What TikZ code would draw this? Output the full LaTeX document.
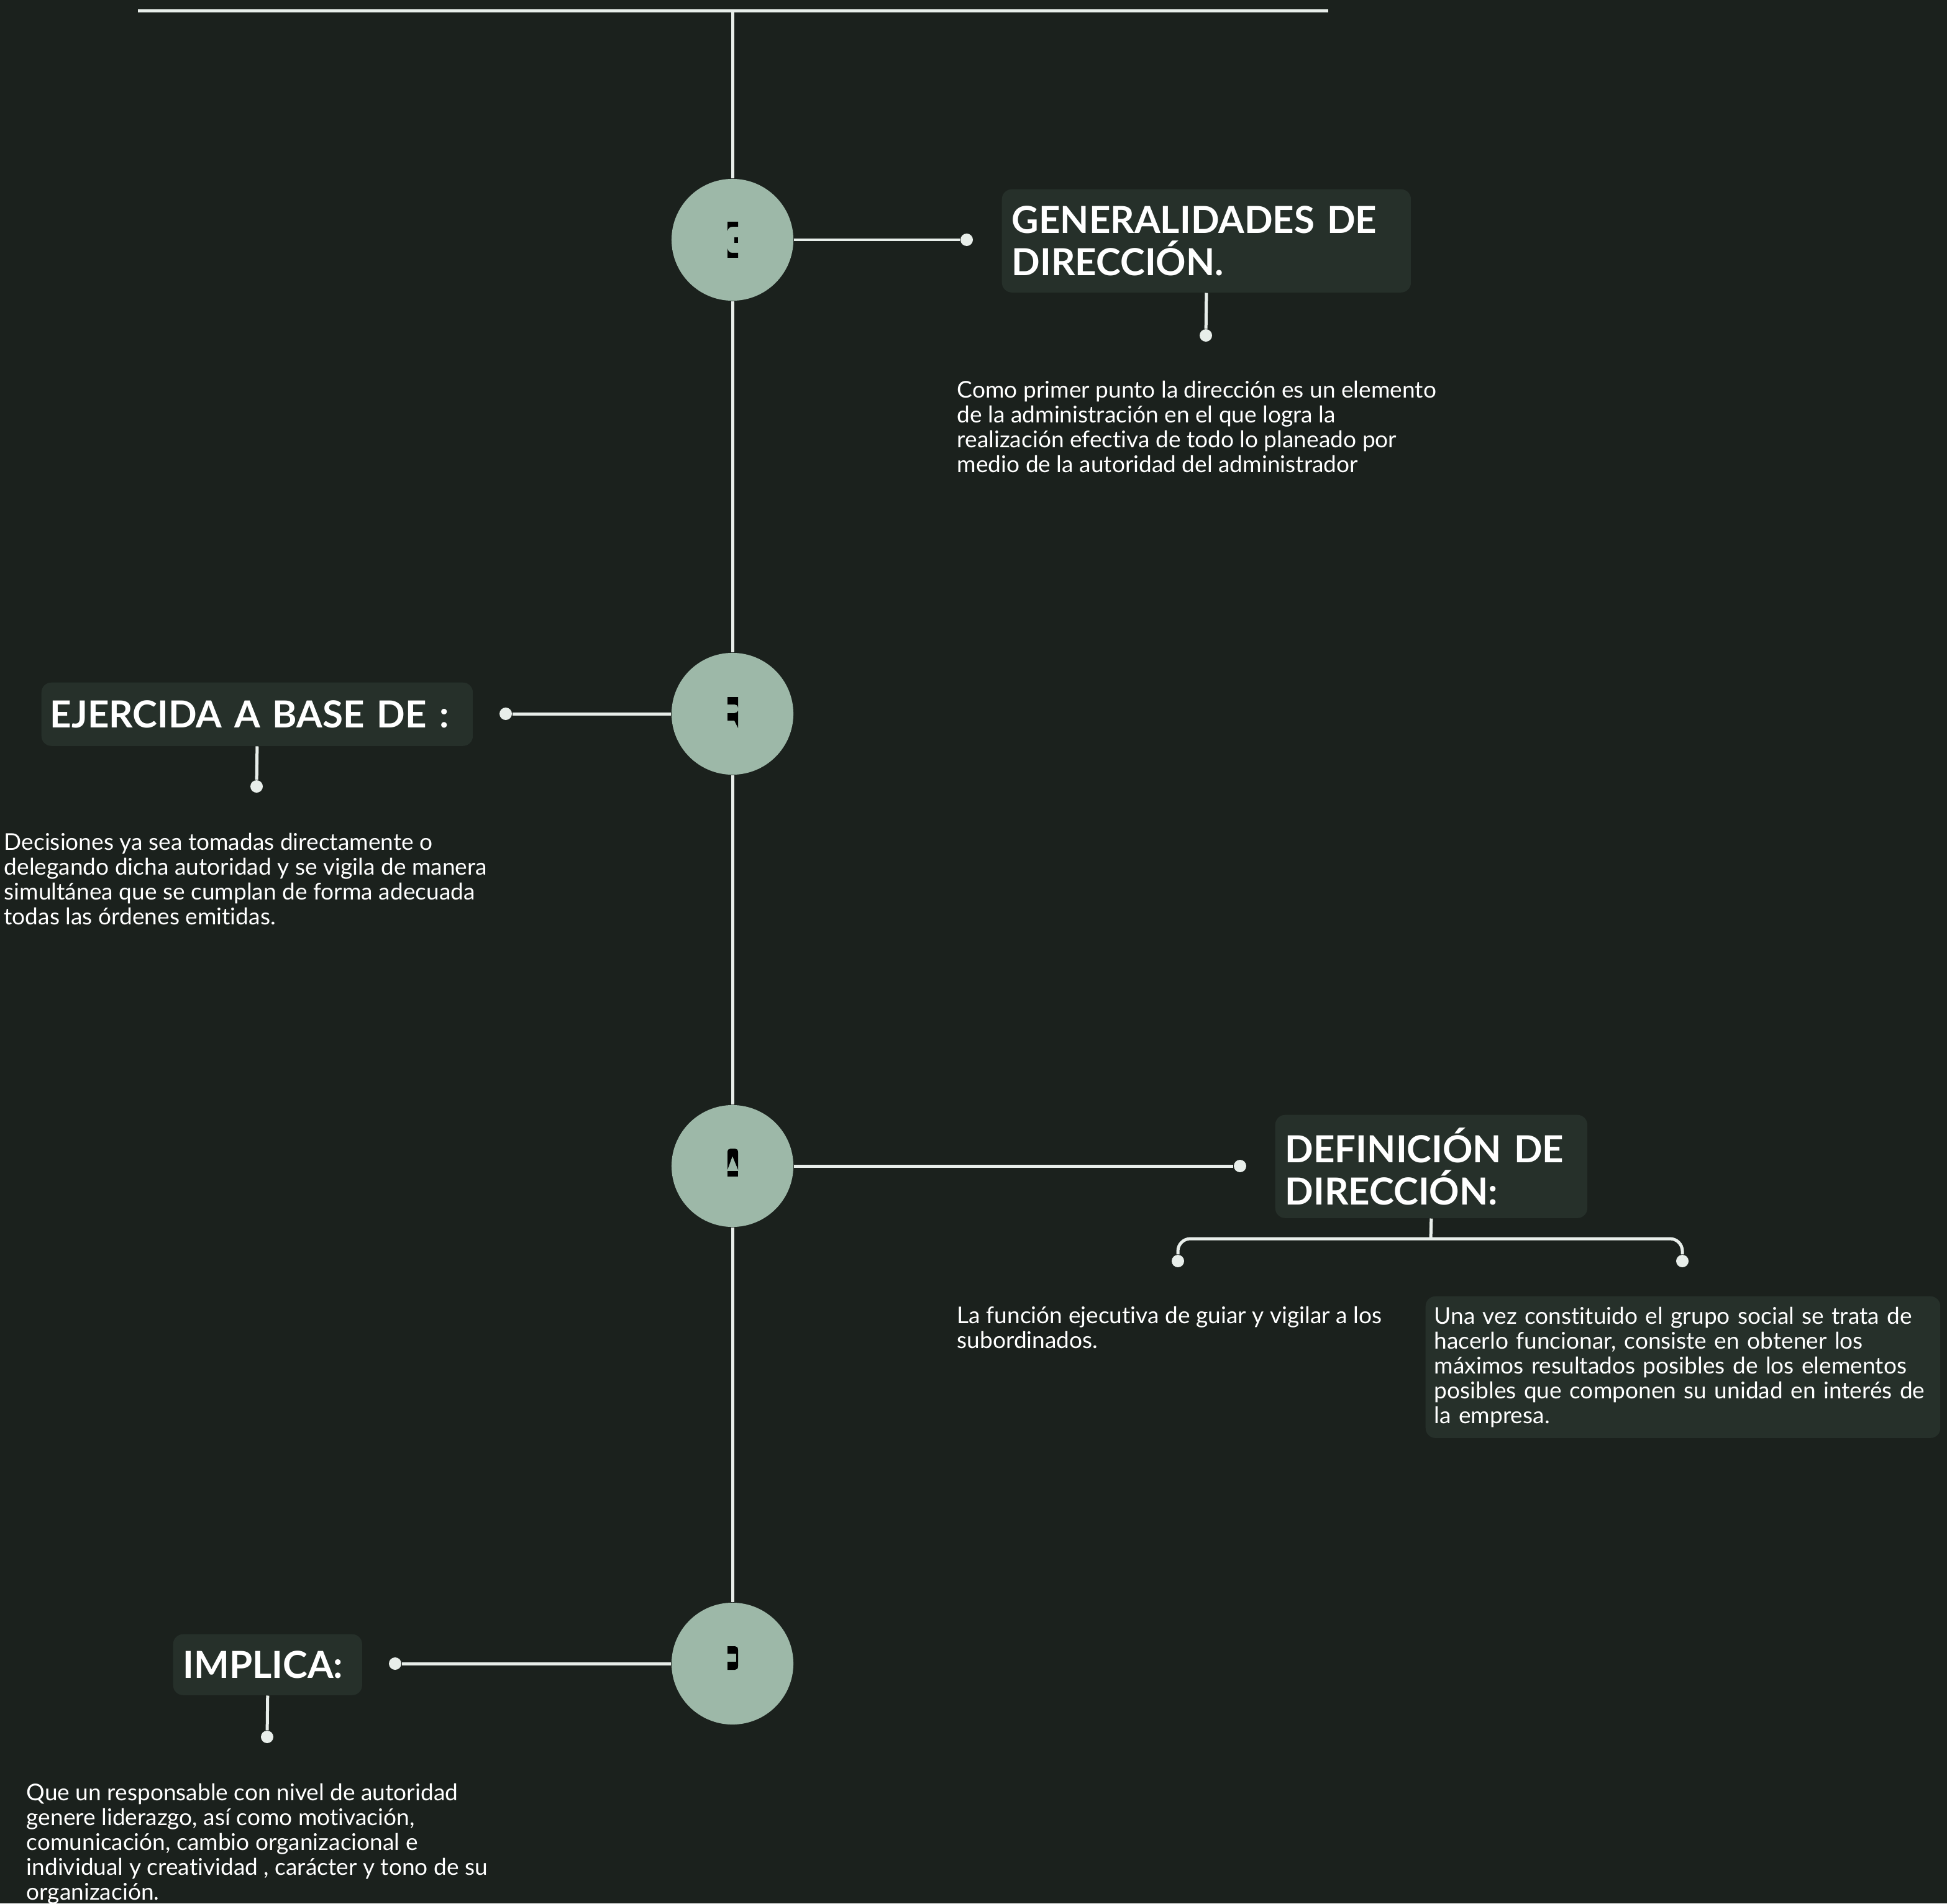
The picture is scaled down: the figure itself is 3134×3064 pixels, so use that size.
\documentclass[tikz,border=0pt]{standalone}
\usepackage{fontspec}
\setmainfont{Lato}[Ligatures=NoCommon]
\usetikzlibrary{positioning}

\definecolor{bgc}{HTML}{1B211D}
\definecolor{boxc}{HTML}{26302A}
\definecolor{circc}{HTML}{9DB8A8}
\definecolor{linec}{HTML}{E8EEEA}

\newcommand\headfont{\fontsize{17.07}{19.35}\selectfont\bfseries}
\newcommand\bodyfont{\fontsize{10.55}{11.38}\selectfont}

\tikzset{
  conn/.style={draw=linec, line width=1.42pt},
  dotnode/.style={circle, fill=linec, inner sep=0pt, minimum size=0.2cm},
  stepcirc/.style={circle, fill=circc, inner sep=0pt, minimum size=1.96cm},
  headbox/.style={fill=boxc, rounded corners=0.16cm, anchor=north west, align=left,
    inner xsep=0.16cm, inner ysep=0pt, text=white, font=\headfont},
  bodytext/.style={anchor=north west, align=left, inner sep=0pt, text=white, font=\bodyfont},
}

\begin{document}
\begin{tikzpicture}[x=0.01cm, y=-0.01cm]
    \useasboundingbox (0,0) rectangle (3134,3064);
    \fill [bgc] (0,0) rectangle (3134,3064);

    % top bar and spine
    \coordinate (tl) at (222,18);
    \coordinate (tr) at (2138,18);
    \coordinate (tm) at (1179,18);
    \draw [conn] (tl) -- (tr);
    \node [stepcirc] (c1) at (1179,386) {};
    \node [stepcirc] (c2) at (1179,1149) {};
    \node [stepcirc] (c3) at (1179,1877) {};
    \node [stepcirc] (c4) at (1179,2678) {};
    \draw [conn] (tm) -- (c1) -- (c2) -- (c3) -- (c4);

    % step marks
    \begin{scope}[shift={(c1.center)}]
      \fill [black] (-8,-29) -- (9,-29) -- (9,-21) -- (0,-21) .. controls (-5,-21) and (-7,-18) .. (-8,-14) -- cycle;
      \fill [black] (3,-4) rectangle (9,5);
      \fill [black] (-8,29) -- (9,29) -- (9,21) -- (0,21) .. controls (-5,21) and (-7,18) .. (-8,14) -- cycle;
    \end{scope}
    \begin{scope}[shift={(c2.center)}]
      \fill [black] (-8,-27) -- (9,-27) -- (9,-10) .. controls (8,-14) and (6,-15) .. (3,-15) -- (-8,-15) -- cycle;
      \fill [black] (-8,-1) -- (3,-1) .. controls (6,-1) and (8,-3) .. (9,-5) -- (9,23) -- (3,11) -- (-8,11) -- cycle;
    \end{scope}
    \begin{scope}[shift={(c3.center)}]
      \fill [black] (-8,6) -- (-8,-22) .. controls (-8,-26) and (-6,-28) .. (-3,-28) -- (4,-28)
        .. controls (7,-28) and (9,-26) .. (9,-22) -- (9,6) -- (0,-16) -- cycle;
      \fill [black] (-8,8) rectangle (9,17);
    \end{scope}
    \begin{scope}[shift={(c4.center)}]
      \fill [black] (-8,-28) -- (4,-28) .. controls (7,-28) and (9,-26) .. (9,-22) -- (9,4)
        .. controls (9,8) and (7,10) .. (4,10) -- (-8,10) -- (-8,-3) -- (6,-3) -- (6,-16) -- (-8,-16) -- cycle;
    \end{scope}

    % step 1
    \node [dotnode] (d1) at (1556,386) {};
    \draw [conn] (c1) -- (d1);
    \node [headbox, text width=6.26cm, minimum height=1.66cm] (h1) at (1612,304)
      {GENERALIDADES DE\\DIRECCIÓN.};
    \node [dotnode] (e1) at (1941,540) {};
    \draw [conn] (h1.south) -- (e1);
    \node [bodytext] (t1) at (1540,612)
      {Como primer punto la dirección es un elemento\\
       de la administración en el que logra la\\
       realización efectiva de todo lo planeado por\\
       medio de la autoridad del administrador};

    % step 2
    \node [dotnode] (d2) at (814,1149) {};
    \draw [conn] (c2) -- (d2);
    \node [headbox, text width=6.66cm, minimum height=1.02cm, inner xsep=0.14cm] (h2) at (66,1098)
      {EJERCIDA A BASE DE :};
    \node [dotnode] (e2) at (413,1266) {};
    \draw [conn] (h2.south) -- (e2);
    \node [bodytext] (t2) at (6,1340)
      {Decisiones ya sea tomadas directamente o\\
       delegando dicha autoridad y se vigila de manera\\
       simultánea que se cumplan de forma adecuada\\
       todas las órdenes emitidas.};

    % step 3
    \node [dotnode] (d3) at (1996,1877) {};
    \draw [conn] (c3) -- (d3);
    \node [headbox, text width=4.70cm, minimum height=1.66cm] (h3) at (2052,1794)
      {DEFINICIÓN DE\\DIRECCIÓN:};
    \coordinate (br) at (2303,1994);
    \node [dotnode] (e3a) at (1896,2030) {};
    \node [dotnode] (e3b) at (2708,2030) {};
    \draw [conn] (h3.south) -- (br);
    \draw [conn, rounded corners=0.2cm] (e3a) |- (br) -| (e3b);
    \node [bodytext] (t3a) at (1540,2102)
      {La función ejecutiva de guiar y vigilar a los\\
       subordinados.};
    \node [headbox, font=\bodyfont, text width=8.00cm, minimum height=2.28cm, inner xsep=0.14cm] (t3b) at (2294,2086)
      {Una vez constituido el grupo social se trata de\\
       hacerlo funcionar, consiste en obtener los\\
       máximos resultados posibles de los elementos\\
       posibles que componen su unidad en interés de\\
       la empresa.};

    % step 4
    \node [dotnode] (d4) at (636,2678) {};
    \draw [conn] (c4) -- (d4);
    \node [headbox, text width=2.72cm, minimum height=0.98cm] (h4) at (278,2630)
      {IMPLICA:};
    \node [dotnode] (e4) at (430,2796) {};
    \draw [conn] (h4.south) -- (e4);
    \node [bodytext] (t4) at (42,2870)
      {Que un responsable con nivel de autoridad\\
       genere liderazgo, así como motivación,\\
       comunicación, cambio organizacional e\\
       individual y creatividad , carácter y tono de su\\
       organización.};
\end{tikzpicture}
\end{document}
